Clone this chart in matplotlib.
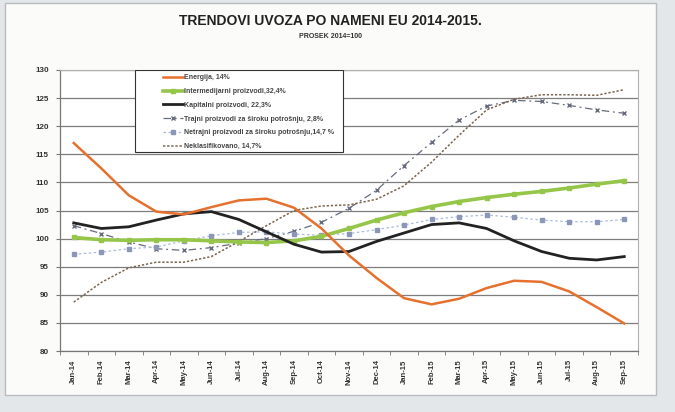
import matplotlib
matplotlib.use("Agg")
import numpy as np
from matplotlib import pyplot as plt
from matplotlib.patches import Rectangle


# months on the category axis
months = ["Jan-14", "Feb-14", "Mar-14", "Apr-14", "May-14", "Jun-14", "Jul-14",
          "Aug-14", "Sep-14", "Oct-14", "Nov-14", "Dec-14", "Jan-15", "Feb-15",
          "Mar-15", "Apr-15", "May-15", "Jun-15", "Jul-15", "Aug-15", "Sep-15"]

# index values, average 2014 = 100
energija = [117.0, 112.5, 107.7, 104.8, 104.3, 105.6, 106.8, 107.1, 105.5, 101.8, 97.0,
            93.0, 89.4, 88.3, 89.3, 91.2, 92.5, 92.3, 90.6, 87.8, 84.9]
intermedijarni = [100.2, 99.8, 99.7, 99.8, 99.8, 99.6, 99.4, 99.3, 99.6, 100.4, 101.8,
                  103.3, 104.6, 105.7, 106.6, 107.3, 107.9, 108.4, 109.0, 109.7, 110.3]
kapitalni = [102.8, 101.8, 102.1, 103.3, 104.4, 104.8, 103.4, 101.2, 99.0, 97.6, 97.7,
             99.5, 101.0, 102.5, 102.8, 101.8, 99.6, 97.7, 96.5, 96.2, 96.8]
trajni = [102.3, 100.9, 99.4, 98.2, 97.9, 98.4, 99.2, 100.0, 101.3, 102.9, 105.4,
          108.6, 113.0, 117.1, 121.1, 123.6, 124.6, 124.4, 123.7, 122.9, 122.3]
netrajni = [97.2, 97.6, 98.2, 98.5, 99.6, 100.5, 101.1, 101.2, 100.8, 100.6, 100.9,
            101.6, 102.4, 103.4, 103.9, 104.2, 103.8, 103.3, 103.0, 103.0, 103.4]
neklasifikovano = [88.7, 92.2, 94.8, 95.8, 95.8, 96.8, 99.5, 102.3, 105.0, 105.8, 106.0,
                   107.0, 109.4, 113.6, 118.4, 122.9, 124.8, 125.6, 125.6, 125.5, 126.5]

labels = ["Energija, 14%", "Intermedijarni proizvodi,32,4%", "Kapitalni proizvodi, 22,3%",
          "Trajni proizvodi za široku potrošnju, 2,8%",
          "Netrajni proizvodi za široku potrošnju,14,7 %", "Neklasifikovano, 14,7%"]

FONT = ["Liberation Sans", "DejaVu Sans"]

# line styles per series: (data, style kwargs)
STYLES = [
    dict(color="#e6702e", lw=1.8, zorder=5),
    dict(color="#95c64a", lw=2.6, marker="s", ms=3.5, zorder=4),
    dict(color="#222222", lw=2.0, zorder=4),
    dict(color="#666b7e", lw=0.9, ls=(0, (6, 3, 1.5, 3)), marker="x", ms=3, mew=1.0, zorder=3),
    dict(color="#a9bddb", lw=0.9, ls=(0, (2, 2)), marker="s", ms=2.5,
         mfc="#8c97b8", mec="#8c97b8", zorder=3),
    dict(color="#7a6650", lw=1.1, ls=(0, (1.5, 1.2)), zorder=3),
]


def main():
    plt.rcParams["font.family"] = FONT
    fig = plt.figure(figsize=(6.75, 4.12), dpi=100, facecolor="#e3e7ea")

    # white page behind the chart
    page = Rectangle((5 / 675, 17 / 412), 651 / 675, 392 / 412,
                     transform=fig.transFigure, facecolor="#fbfbfa",
                     edgecolor="#b8bcc0", linewidth=1.0, zorder=-10)
    fig.add_artist(page)

    ax = fig.add_axes([60 / 675, 61 / 412, 578 / 675, 281 / 412])
    ax.set_zorder(1)
    ax.set_facecolor("white")
    x = np.arange(len(months))

    series = [energija, intermedijarni, kapitalni, trajni, netrajni, neklasifikovano]
    handles = []
    for values, style in zip(series, STYLES):
        line, = ax.plot(x, values, **style)
        handles.append(line)

    ax.set_xlim(-0.5, len(months) - 0.5)
    ax.set_ylim(80, 130)
    ax.set_yticks(np.arange(80, 131, 5))
    ax.grid(axis="y", color="#7d7d7d", lw=0.9)
    ax.set_axisbelow(True)

    ax.set_xticks(x)
    ax.set_xticklabels(months, rotation=90, fontsize=5.5, fontweight="bold", color="#333333")
    ax.set_xticks(np.arange(len(months) + 1) - 0.5, minor=True)
    ax.tick_params(axis="x", which="major", length=0, pad=6)
    ax.tick_params(axis="x", which="minor", length=3, color="#777777", direction="out")
    ax.tick_params(axis="y", length=3, color="#777777", labelsize=5.8, pad=5,
                   labelcolor="#333333")
    for t in ax.get_yticklabels():
        t.set_fontweight("bold")

    for side in ["top", "right"]:
        ax.spines[side].set_color("#b0b0b0")
        ax.spines[side].set_linewidth(0.8)
    for side in ["left", "bottom"]:
        ax.spines[side].set_color("#777777")
        ax.spines[side].set_linewidth(0.9)

    # legend box with wide left margin, as Excel draws it
    ax.add_patch(Rectangle((0.13, 0.708), 0.36, 0.292, transform=ax.transAxes,
                           facecolor="white", edgecolor="#333333", lw=0.8, zorder=6))
    leg = ax.legend(handles, labels, loc="upper left", bbox_to_anchor=(0.178, 0.985),
                    prop={"size": 5.0, "weight": "bold"}, frameon=False,
                    handlelength=2.9, borderpad=0, borderaxespad=0,
                    labelspacing=0.98, handletextpad=0.2)
    leg.set_zorder(7)
    for t in leg.get_texts():
        t.set_color("#444444")

    fig.text(0.49, 0.948, "TRENDOVI UVOZA PO NAMENI EU 2014-2015.", ha="center",
             va="center", fontsize=10, fontweight="bold", color="#222222")
    fig.text(0.49, 0.912, "PROSEK 2014=100", ha="center", va="center",
             fontsize=5, fontweight="bold", color="#333333")

    fig.savefig("out.png", dpi=100, facecolor=fig.get_facecolor())
    plt.close(fig)


if __name__ == "__main__":
    main()
